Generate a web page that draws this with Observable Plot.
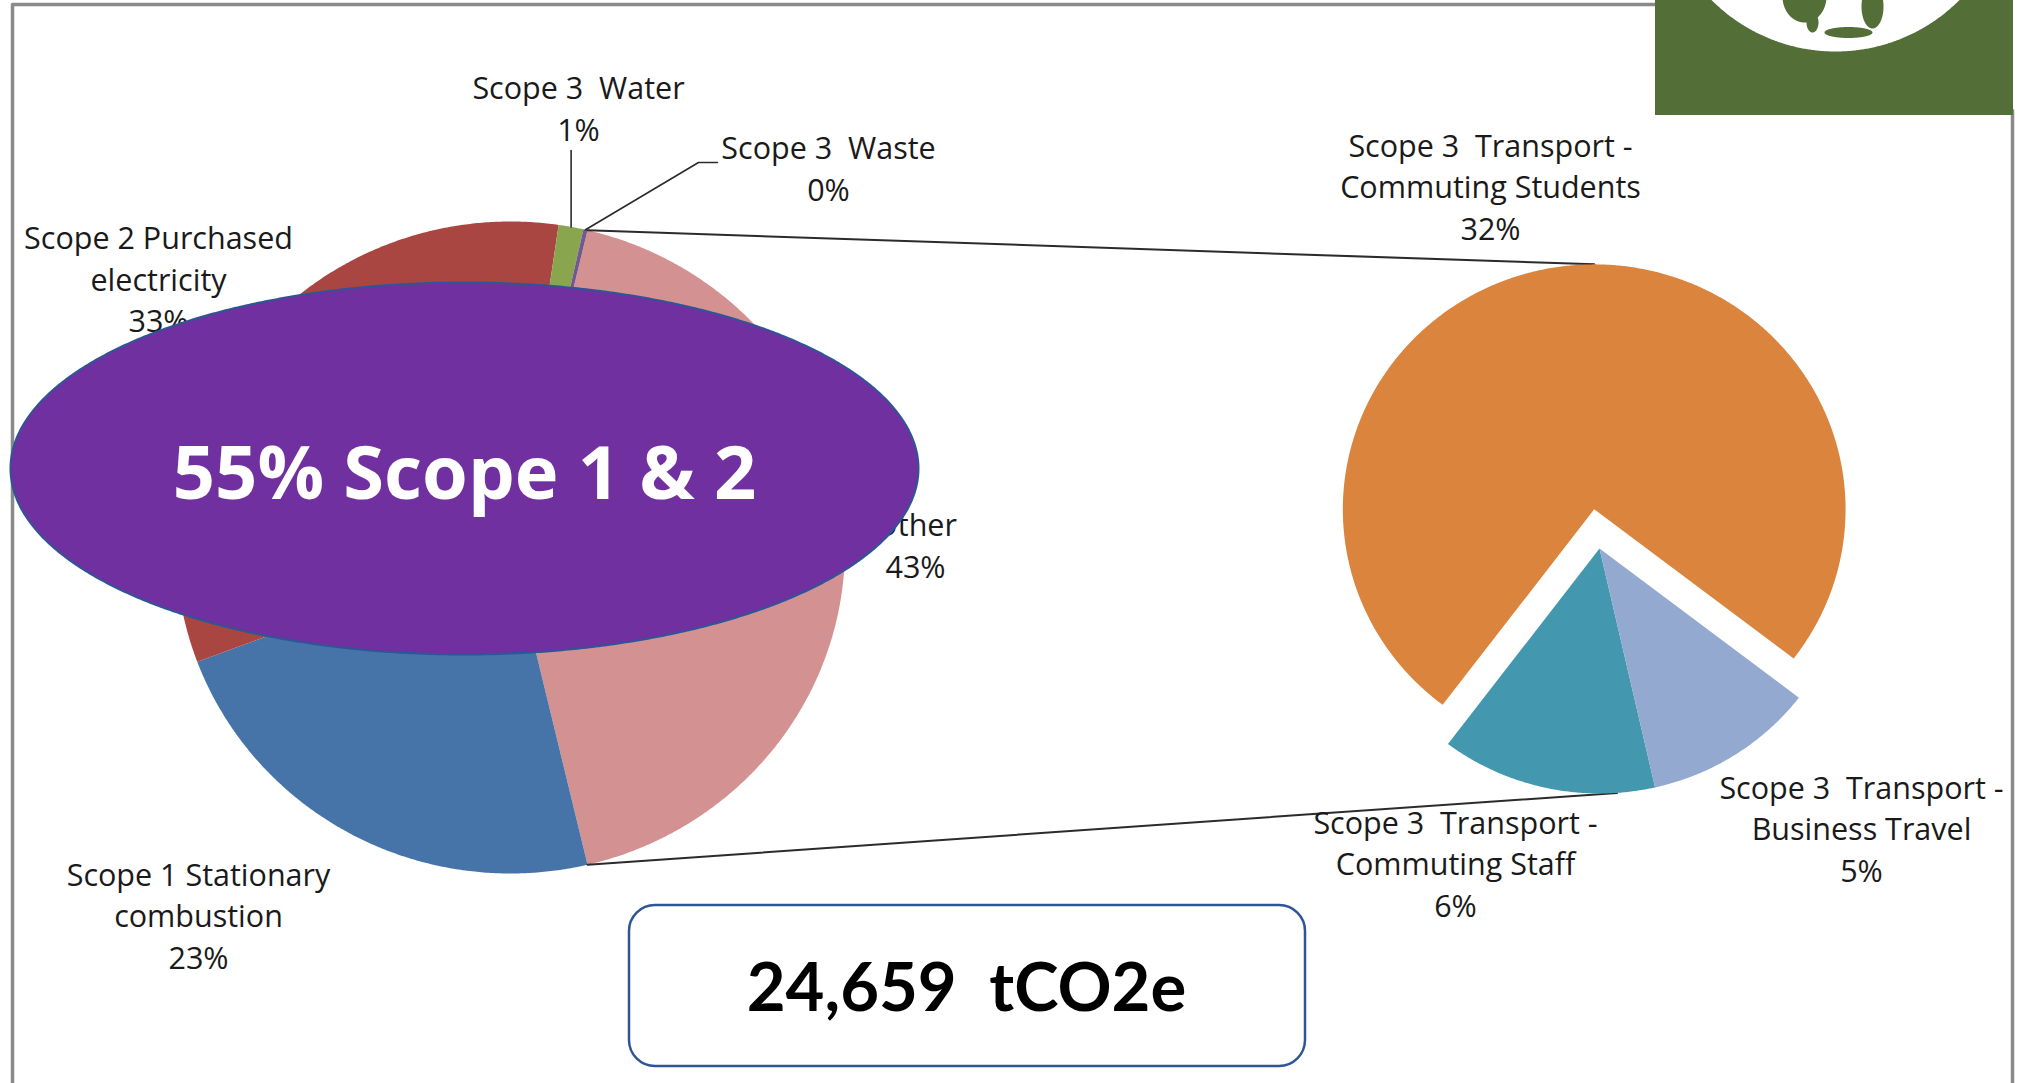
<!DOCTYPE html>
<html>
<head>
<meta charset="utf-8">
<script src="https://cdn.jsdelivr.net/npm/d3@7"></script>
<script src="https://cdn.jsdelivr.net/npm/@observablehq/plot@0.6"></script>
<style>
  html, body { margin: 0; padding: 0; background: #ffffff; overflow: hidden; }
  #chart svg { display: block; }
</style>
</head>
<body>
<div id="chart"></div>
<script>
// ---------------- DATA ----------------
const mainCategories = ["Scope 1 Stationary combustion", "Scope 2 Purchased electricity", "Scope 3  Water", "Scope 3  Waste"];
const mainLabels = ["Scope 1 Stationary\ncombustion", "Scope 2 Purchased\nelectricity", "Scope 3  Water", "Scope 3  Waste"];
const mainValues = [23.0, 33.0, 1.2, 0.2];          // % of total emissions
const otherCategory = "Other";
const otherCategories = ["Scope 3  Transport - Commuting Students", "Scope 3  Transport - Commuting Staff", "Scope 3  Transport - Business Travel"];
const otherLabels = ["Scope 3  Transport -\nCommuting Students", "Scope 3  Transport -\nCommuting Staff", "Scope 3  Transport -\nBusiness Travel"];
const otherValues = [32.0, 5.9, 4.7];               // % of total emissions
const headlineText = "55% Scope 1 & 2";
const totalText = "24,659  tCO2e";

// ---------------- STYLE / LAYOUT ----------------
const mainColors = ["#4674A8", "#A94642", "#89A54E", "#71588F"];
const otherColor = "#D39291";
const otherColors = ["#DB843D", "#4398AF", "#93A9CF"];
const W = 2018, H = 1083;
const stretch = 1.026;                                   // horizontal stretch of the pies
const mainPie = {cx: 510, cy: 547, r: 326};
const secPie = {cx: 1599, cy: 548, r: 245, start: 127.5, explode: 39.5};
const mainLabelPos = [[198, 968], [158, 331.5], [578, 140], [828, 200]];
const otherLabelPos = [915, 577];
const secLabelPos = [[1490, 239], [1455, 916], [1861, 881]];
const labelFont = {fontFamily: "'Open Sans', sans-serif", fontSize: 30.5, lineHeight: 1.36, fill: "#1a1a1a"};

// ---------------- GEOMETRY ----------------
const rad = Math.PI / 180;
function onEllipse(c, rx, ry, a) { return [c[0] + rx * Math.sin(a * rad), c[1] - ry * Math.cos(a * rad)]; }
function wedge(key, c, rx, ry, a0, a1) {
  const pts = [{key, x: c[0], y: c[1]}];
  const n = Math.max(2, Math.ceil((a1 - a0) / 0.4));
  for (let i = 0; i <= n; ++i) {
    const [x, y] = onEllipse(c, rx, ry, a0 + (a1 - a0) * i / n);
    pts.push({key, x, y});
  }
  return pts;
}

const otherTotal = d3.sum(otherValues);
const grandTotal = d3.sum(mainValues) + otherTotal;
const pct = v => Math.round(v / grandTotal * 100) + "%";

// main pie: clockwise Other, Scope 1, Scope 2, Water, Waste; Other faces the secondary pie
const mainKeys = [otherCategory, ...mainCategories];
const mainVals = [otherTotal, ...mainValues];
const mainAngles = [];
{
  let a = 90 - otherTotal / grandTotal * 360 / 2;
  for (const v of mainVals) { const d = v / grandTotal * 360; mainAngles.push([a, a + d]); a += d; }
}
const mRx = mainPie.r * stretch, mRy = mainPie.r;
const mainC = [mainPie.cx, mainPie.cy];
const mainWedges = mainKeys.flatMap((k, i) => wedge(k, mainC, mRx, mRy, mainAngles[i][0], mainAngles[i][1]));

// secondary pie: clockwise Business Travel, Commuting Staff, Commuting Students (students exploded)
const secOrder = [2, 1, 0];
const sRx = secPie.r * stretch, sRy = secPie.r;
const secC = [secPie.cx, secPie.cy];
const secAngles = {};
{
  let a = secPie.start;
  for (const i of secOrder) { const d = otherValues[i] / otherTotal * 360; secAngles[i] = [a, a + d]; a += d; }
}
const secCenters = otherCategories.map((k, i) => {
  if (i !== 0) return secC;
  const mid = (secAngles[i][0] + secAngles[i][1]) / 2;
  return [secC[0] + secPie.explode * Math.sin(mid * rad), secC[1] - secPie.explode * Math.cos(mid * rad)];
});
const secWedges = otherCategories.flatMap((k, i) => wedge(k, secCenters[i], sRx, sRy, secAngles[i][0], secAngles[i][1]));

// connector lines from the "Other" slice edges to the secondary pie
const oA = mainAngles[0];
const topStart = onEllipse(mainC, mRx, mRy, oA[0]);
const botStart = onEllipse(mainC, mRx, mRy, oA[1]);
const topEnd = onEllipse(secCenters[0], sRx, sRy, 0);
const botEnd = onEllipse(secC, sRx, sRy, 176);
const connectors = [
  {key: "top", x: topStart[0], y: topStart[1]}, {key: "top", x: topEnd[0], y: topEnd[1]},
  {key: "bot", x: botStart[0], y: botStart[1]}, {key: "bot", x: botEnd[0], y: botEnd[1]}
];

// leader lines for the tiny slices
const waterMid = onEllipse(mainC, mRx, mRy, (mainAngles[3][0] + mainAngles[3][1]) / 2);
const wasteMid = onEllipse(mainC, mRx, mRy, (mainAngles[4][0] + mainAngles[4][1]) / 2);
const leaders = [
  {key: "water", x: waterMid[0], y: waterMid[1]}, {key: "water", x: waterMid[0], y: mainLabelPos[2][1] + 10},
  {key: "waste", x: wasteMid[0], y: wasteMid[1]},
  {key: "waste", x: mainLabelPos[3][0] - 130, y: mainLabelPos[3][1] - 38},
  {key: "waste", x: mainLabelPos[3][0] - 111, y: mainLabelPos[3][1] - 38}
];

// labels
const labels = [
  ...mainCategories.map((k, i) => ({x: mainLabelPos[i][0], y: mainLabelPos[i][1], text: mainLabels[i] + "\n" + pct(mainValues[i])})),
  {x: otherLabelPos[0], y: otherLabelPos[1], text: otherCategory + "\n" + pct(otherTotal)}
];
const secLabels = otherCategories.map((k, i) => ({x: secLabelPos[i][0], y: secLabelPos[i][1], text: otherLabels[i] + "\n" + pct(otherValues[i])}));

// headline ellipse
const headEll = wedge("head", [464, 468], 454, 186, 0, 360).slice(1);
// total box
const box = [{x1: 629, x2: 1305, y1: 905, y2: 1066}];
// logo (decorative globe)
const logoRect = [{x1: 1655, x2: 2013, y1: 0, y2: 115}];
const globe = wedge("globe", [1835, -124], 175, 175, 90, 270).slice(1);
const land = [
  ...wedge("l1", [1804, -4], 22, 26, 0, 360).slice(1),
  ...wedge("l1b", [1812, 22], 6, 10, 0, 360).slice(1),
  ...wedge("l2", [1872, 6], 11, 22, 0, 360).slice(1),
  ...wedge("l3", [1848, 32], 24, 5.5, 0, 360).slice(1)
];
// frame
const frame = [
  {key: "l", x: 12, y: H + 5}, {key: "l", x: 12, y: 4}, {key: "l", x: 1656, y: 4},
  {key: "r", x: 2012, y: 110}, {key: "r", x: 2012, y: H + 5}
];

const allKeys = [otherCategory, ...mainCategories, ...otherCategories];
const allColors = [otherColor, ...mainColors, ...otherColors];

const chart = Plot.plot({
  width: W, height: H,
  margin: 0,
  x: {domain: [0, W], range: [0, W], axis: null},
  y: {domain: [0, H], range: [0, H], axis: null},
  color: {domain: allKeys, range: allColors},
  style: {background: "white", overflow: "hidden"},
  marks: [
    Plot.line(frame, {x: "x", y: "y", z: "key", stroke: "#8a8a8a", strokeWidth: 3.5}),
    Plot.line(mainWedges, {x: "x", y: "y", z: "key", fill: "key", stroke: "none", curve: "linear-closed"}),
    Plot.line(connectors, {x: "x", y: "y", z: "key", stroke: "#2b2b2b", strokeWidth: 2}),
    Plot.line(leaders, {x: "x", y: "y", z: "key", stroke: "#2b2b2b", strokeWidth: 1.6}),
    Plot.text(labels, {x: "x", y: "y", text: "text", textAnchor: "middle", lineAnchor: "bottom", ...labelFont}),
    Plot.line(headEll, {x: "x", y: "y", fill: "#7030A0", stroke: "#2F5597", strokeWidth: 2, curve: "linear-closed"}),
    Plot.text([headlineText], {x: () => 464, y: () => 498, text: d => d, textAnchor: "middle", lineAnchor: "bottom",
      fontFamily: "'Open Sans', sans-serif", fontWeight: 700, fontSize: 74, fill: "white"}),
    Plot.line(secWedges, {x: "x", y: "y", z: "key", fill: "key", stroke: "none", curve: "linear-closed"}),
    Plot.text(secLabels, {x: "x", y: "y", text: "text", textAnchor: "middle", lineAnchor: "bottom", ...labelFont}),
    Plot.rect(box, {x1: "x1", x2: "x2", y1: "y1", y2: "y2", rx: 26, fill: "white", stroke: "#2F5597", strokeWidth: 2.5}),
    Plot.text([totalText], {x: () => 966, y: () => 1010, text: d => d, textAnchor: "middle", lineAnchor: "bottom",
      fontFamily: "Lato, sans-serif", fontWeight: 700, fontSize: 67, fill: "black"}),
    Plot.rect(logoRect, {x1: "x1", x2: "x2", y1: "y1", y2: "y2", fill: "#546E37"}),
    Plot.line(globe, {x: "x", y: "y", fill: "white", stroke: "none", curve: "linear-closed"}),
    Plot.line(land, {x: "x", y: "y", z: "key", fill: "#546E37", stroke: "none", curve: "linear-closed"})
  ]
});
document.getElementById("chart").appendChild(chart);
</script>
</body>
</html>
